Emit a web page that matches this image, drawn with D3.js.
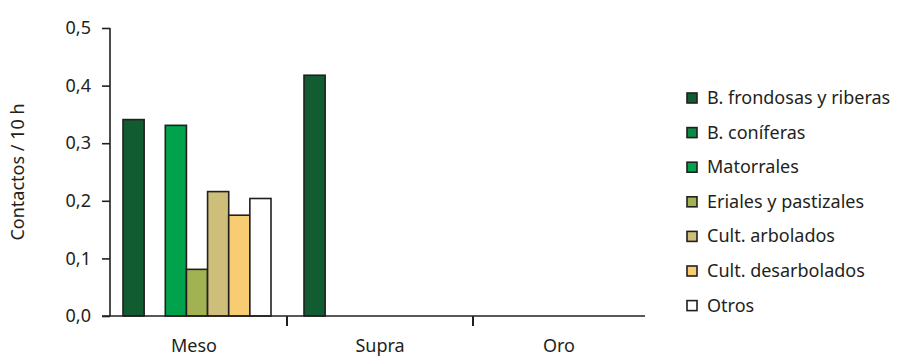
<!DOCTYPE html>
<html>
<head>
<meta charset="utf-8">
<script src="https://cdn.jsdelivr.net/npm/d3@7"></script>
<style>
  body { margin: 0; background: #fff; }
  text { font-family: "Noto Sans", sans-serif; fill: #231f20; }
</style>
</head>
<body>
<div id="chart"></div>
<script>
// data
const pisos = ['Meso', 'Supra', 'Oro'];
const habitats = ['B. frondosas y riberas', 'B. coníferas', 'Matorrales', 'Eriales y pastizales',
  'Cult. arbolados', 'Cult. desarbolados', 'Otros'];
const meso = [0.341, 0, 0.331, 0.081, 0.216, 0.175, 0.204];
const supra = [0.418, 0, 0, 0, 0, 0, 0];
const oro = [0, 0, 0, 0, 0, 0, 0];
const yTicks = [0, 0.1, 0.2, 0.3, 0.4, 0.5];
const colores = ['#125c32', '#0b8a47', '#00a24c', '#a1b253', '#cdbe79', '#f7cc72', '#ffffff'];

const width = 901;
const height = 356;
const rows = [meso, supra, oro];

const svg = d3.select('#chart').append('svg')
  .attr('width', width)
  .attr('height', height);

const x0 = d3.scaleBand().domain(pisos).range([101, 659]);
const x1 = d3.scaleBand().domain(habitats).range([0, 148]);
const y = d3.scaleLinear().domain([0, 0.5]).range([316, 28]);
const color = d3.scaleOrdinal().domain(habitats).range(colores);
const axisEnd = 645;
const groupOffset = 19;

// bars (zero values are not drawn)
const group = svg.append('g').selectAll('g')
  .data(pisos)
  .join('g')
  .attr('transform', (d, i) => `translate(${x0(d) + groupOffset + (i === 0 ? 3 : -2)},0)`);

group.selectAll('rect')
  .data((d, i) => habitats.map((h, j) => ({ h, v: rows[i][j] })).filter(e => e.v > 0))
  .join('rect')
  .attr('x', d => x1(d.h))
  .attr('y', d => y(d.v))
  .attr('width', x1.bandwidth())
  .attr('height', d => y(0) - y(d.v))
  .attr('fill', d => color(d.h))
  .attr('stroke', '#231f20')
  .attr('stroke-width', 1.6);

// y axis
const yAxis = svg.append('g')
  .attr('transform', 'translate(110,0)')
  .call(d3.axisLeft(y).tickValues(yTicks).tickSize(8).tickPadding(11)
    .tickFormat(d => d3.format('.1f')(d).replace('.', ',')));
yAxis.select('.domain').attr('stroke', '#231f20').attr('stroke-width', 1.6)
  .attr('d', `M0,${y(0)}V${y(0.5)}`);
yAxis.selectAll('.tick line').attr('stroke', '#231f20').attr('stroke-width', 1.6);
yAxis.selectAll('.tick text').style('font-size', '18px').attr('fill', '#231f20');

// x axis: baseline plus divider ticks between groups
svg.append('line')
  .attr('x1', 102).attr('x2', axisEnd)
  .attr('y1', y(0)).attr('y2', y(0))
  .attr('stroke', '#231f20').attr('stroke-width', 1.6);

svg.append('g').selectAll('line')
  .data(pisos.slice(1))
  .join('line')
  .attr('x1', d => x0(d)).attr('x2', d => x0(d))
  .attr('y1', y(0)).attr('y2', y(0) + 10)
  .attr('stroke', '#231f20').attr('stroke-width', 2);

svg.append('g').selectAll('text')
  .data(pisos)
  .join('text')
  .attr('x', d => (x0(d) + Math.min(x0(d) + x0.bandwidth(), axisEnd)) / 2)
  .attr('y', 352)
  .attr('text-anchor', 'middle')
  .style('font-size', '18px')
  .text(d => d);

// y title
svg.append('text')
  .attr('transform', 'translate(24,172) rotate(-90)')
  .attr('text-anchor', 'middle')
  .style('font-size', '18px')
  .text('Contactos / 10 h');

// legend
const legend = svg.append('g').selectAll('g')
  .data(habitats)
  .join('g')
  .attr('transform', (d, i) => `translate(687,${98 + i * 34.6})`);

legend.append('rect')
  .attr('x', 0).attr('y', -5)
  .attr('width', 10).attr('height', 10)
  .attr('fill', d => color(d))
  .attr('stroke', '#231f20')
  .attr('stroke-width', 1.6);

legend.append('text')
  .attr('x', 20)
  .attr('y', 6)
  .style('font-size', '18px')
  .text(d => d);
</script>
</body>
</html>
